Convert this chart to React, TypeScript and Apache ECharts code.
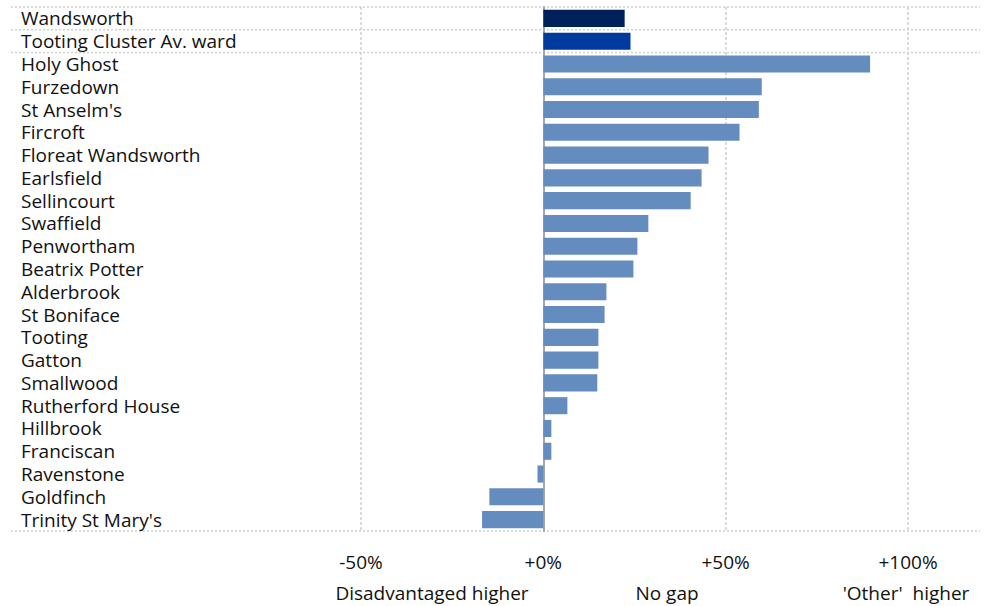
import React, { useEffect, useRef } from "react";
import * as echarts from "echarts";

const categories = [
  "Wandsworth",
  "Tooting Cluster Av. ward",
  "Holy Ghost",
  "Furzedown",
  "St Anselm's",
  "Fircroft",
  "Floreat Wandsworth",
  "Earlsfield",
  "Sellincourt",
  "Swaffield",
  "Penwortham",
  "Beatrix Potter",
  "Alderbrook",
  "St Boniface",
  "Tooting",
  "Gatton",
  "Smallwood",
  "Rutherford House",
  "Hillbrook",
  "Franciscan",
  "Ravenstone",
  "Goldfinch",
  "Trinity St Mary's",
];

const gapValues = [
  22.3, 23.9, 89.6, 59.9, 59.1, 53.8, 45.3, 43.4, 40.4, 28.8, 25.8, 24.7, 17.3,
  16.8, 15.1, 15.1, 14.8, 6.6, 2.2, 2.2, -1.6, -14.8, -16.8,
];

const barColors = ["#00205b", "#003a9f"];
const defaultBarColor = "#658cbf";

const bottomLabels = ["Disadvantaged higher", "No gap", "'Other'  higher"];
const bottomLabelX = [432, 667, 906];

const W = 993;
const H = 606;
const GRID_TOP = 7;
const GRID_BOTTOM = 75;
const GRID_LEFT = 361;
const GRID_RIGHT = 85;
const FONT = "'Open Sans', 'Noto Sans', sans-serif";
const FS = 19;
const TEXT = "#111111";

export default function App() {
  const ref = useRef<HTMLDivElement>(null);

  useEffect(() => {
    document.body.style.margin = "0";
    const chart = echarts.init(ref.current!, null, { renderer: "svg" });
    const n = categories.length;
    const band = (H - GRID_TOP - GRID_BOTTOM) / n;
    const sepYs = [GRID_TOP, GRID_TOP + band, GRID_TOP + 2 * band, GRID_TOP + n * band];

    const graphics: any[] = sepYs.map((y) => ({
      type: "line",
      silent: true,
      z: 0,
      shape: { x1: 11, y1: y, x2: 980, y2: y },
      style: { stroke: "#cfcfcf", lineWidth: 1.5, lineDash: [2, 2] },
    }));
    bottomLabels.forEach((t, i) => {
      graphics.push({
        type: "text",
        silent: true,
        x: bottomLabelX[i],
        y: 593,
        style: {
          text: t,
          fill: TEXT,
          font: `${FS}px ${FONT}`,
          textAlign: "center",
          textVerticalAlign: "middle",
        },
      });
    });

    chart.setOption({
      animation: false,
      grid: {
        top: GRID_TOP,
        bottom: GRID_BOTTOM,
        left: GRID_LEFT,
        right: GRID_RIGHT,
        containLabel: false,
      },
      xAxis: {
        type: "value",
        min: -50,
        max: 100,
        interval: 50,
        axisLine: { show: false },
        axisTick: { show: false },
        axisLabel: {
          margin: 21,
          fontSize: FS,
          fontFamily: FONT,
          color: TEXT,
          formatter: (v: number) => (v >= 0 ? "+" : "") + v + "%",
        },
        splitLine: {
          show: true,
          lineStyle: { color: "#d0d0d0", width: 1.5, type: [3, 2] },
        },
      },
      yAxis: {
        type: "category",
        inverse: true,
        data: categories,
        axisTick: { show: false },
        axisLine: {
          show: true,
          onZero: true,
          lineStyle: { color: "#a6a6a6", width: 2 },
        },
        axisLabel: {
          interval: 0,
          align: "left",
          margin: GRID_LEFT - 21,
          fontSize: FS,
          fontFamily: FONT,
          color: TEXT,
        },
        splitLine: { show: false },
      },
      series: [
        {
          type: "bar",
          barCategoryGap: "25%",
          data: gapValues.map((v, i) => ({
            value: v,
            itemStyle: { color: barColors[i] ?? defaultBarColor },
          })),
        },
      ],
      graphic: graphics,
    });

    return () => chart.dispose();
  }, []);

  return <div ref={ref} style={{ width: W, height: H }} />;
}
